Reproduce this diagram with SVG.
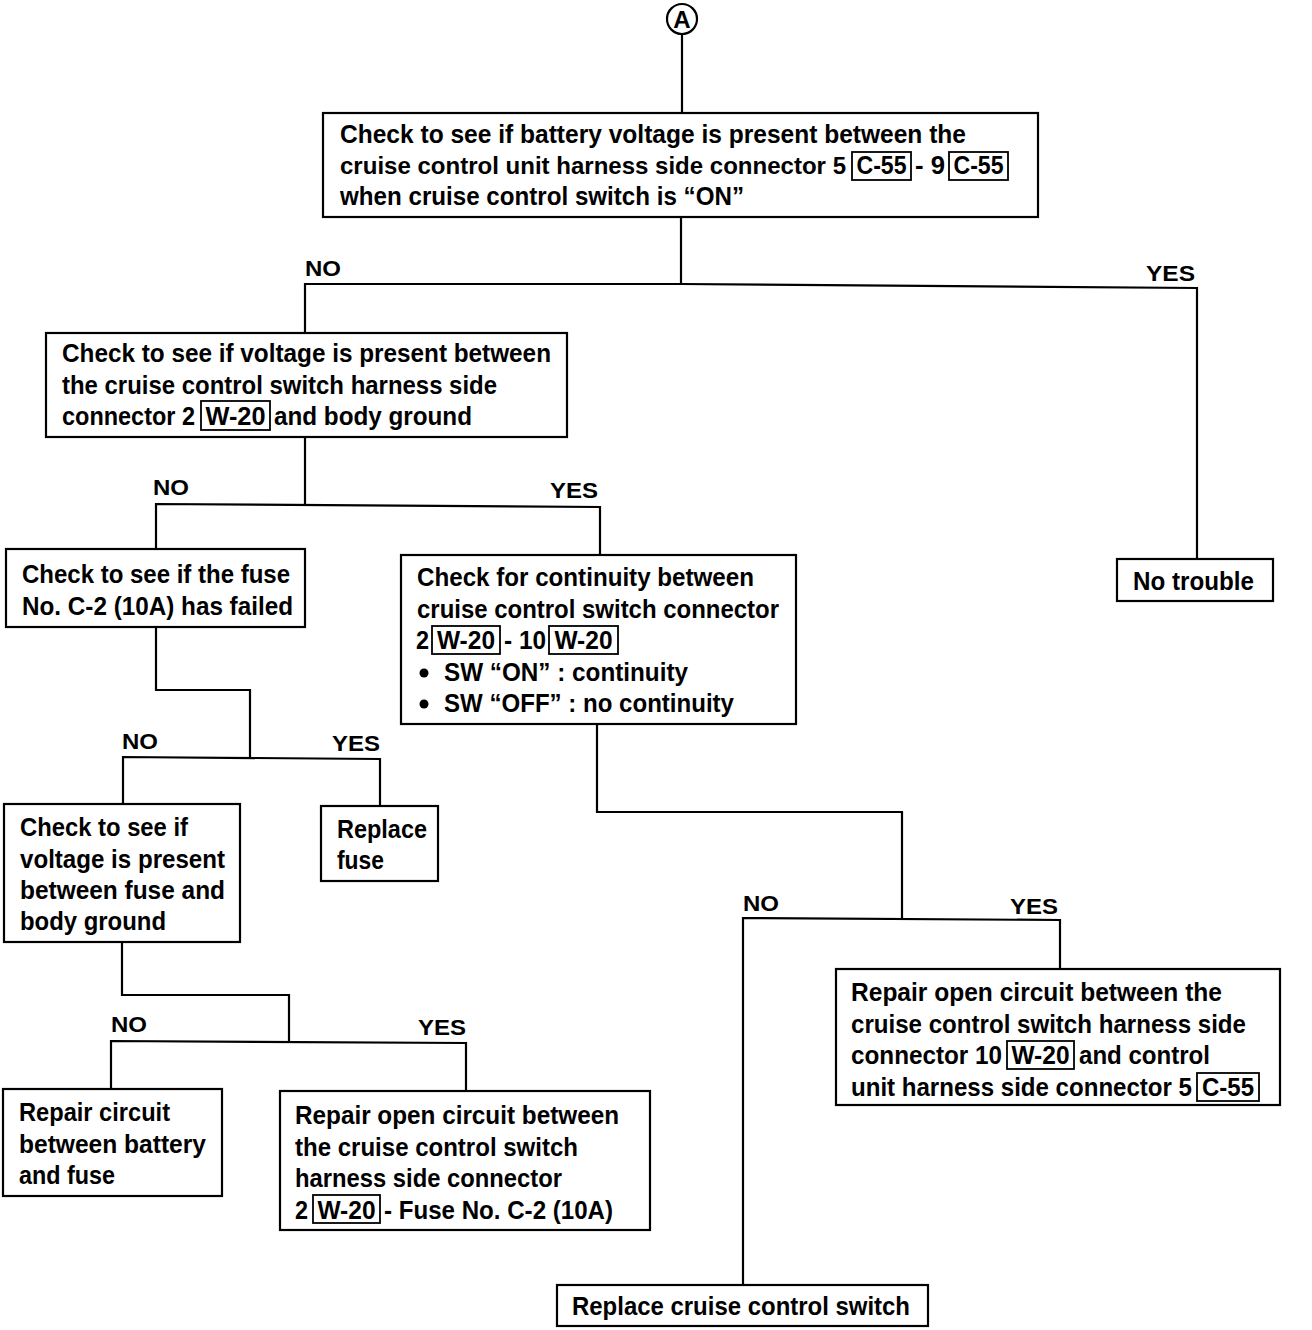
<svg xmlns="http://www.w3.org/2000/svg" width="1312" height="1330" viewBox="0 0 1312 1330">
<style>
.bx{fill:#fff;stroke:#000;stroke-width:2.2}
.cb{fill:none;stroke:#000;stroke-width:1.8}
.ln{fill:none;stroke:#000;stroke-width:2.2}
text{font-family:"Liberation Sans",Arial,sans-serif;font-size:25px;font-weight:bold;fill:#000}
.lb{font-size:22px}
.c{text-anchor:middle}
</style>
<rect width="1312" height="1330" fill="#fff"/>
<g id="connectors">
<polyline class="ln" points="682,34 682,113"/>
<polyline class="ln" points="681,217 681,284"/>
<polyline class="ln" points="305,333 305,284 681,284 1197,288 1197,559"/>
<polyline class="ln" points="305,437 305,504"/>
<polyline class="ln" points="156,549 156,504 600,507 600,555"/>
<polyline class="ln" points="156,627 156,690 250,690 250,757"/>
<polyline class="ln" points="123,804 123,757 380,759 380,806"/>
<polyline class="ln" points="122,942 122,995 289,995 289,1041"/>
<polyline class="ln" points="111,1089 111,1041 466,1043 466,1091"/>
<polyline class="ln" points="597,724 597,812 902,812 902,918"/>
<polyline class="ln" points="743,1285 743,918 1060,920 1060,969"/>
<text class="lb" x="305" y="276" textLength="36" lengthAdjust="spacingAndGlyphs">NO</text>
<text class="lb" x="1146" y="281" textLength="49" lengthAdjust="spacingAndGlyphs">YES</text>
<text class="lb" x="153" y="495" textLength="36" lengthAdjust="spacingAndGlyphs">NO</text>
<text class="lb" x="550" y="498" textLength="48" lengthAdjust="spacingAndGlyphs">YES</text>
<text class="lb" x="122" y="749" textLength="36" lengthAdjust="spacingAndGlyphs">NO</text>
<text class="lb" x="332" y="751" textLength="48" lengthAdjust="spacingAndGlyphs">YES</text>
<text class="lb" x="111" y="1032" textLength="36" lengthAdjust="spacingAndGlyphs">NO</text>
<text class="lb" x="418" y="1035" textLength="48" lengthAdjust="spacingAndGlyphs">YES</text>
<text class="lb" x="743" y="911" textLength="36" lengthAdjust="spacingAndGlyphs">NO</text>
<text class="lb" x="1010" y="914" textLength="48" lengthAdjust="spacingAndGlyphs">YES</text>
</g>
<g id="startA">
<circle cx="682" cy="19" r="15" fill="#fff" stroke="#000" stroke-width="2.2"/>
<text class="c" x="682" y="28" style="font-size:24px">A</text>
</g>
<g id="n1">
<rect class="bx" x="323" y="113" width="715" height="104"/>
<text x="340" y="143" textLength="626" lengthAdjust="spacingAndGlyphs">Check to see if battery voltage is present between the</text>
<text x="340" y="174" style="font-size:23.8px" textLength="506" lengthAdjust="spacingAndGlyphs">cruise control unit harness side connector 5</text>
<rect class="cb" x="852" y="152" width="59" height="28"/>
<text class="c" x="881.5" y="174" textLength="50" lengthAdjust="spacingAndGlyphs">C-55</text>
<text x="915" y="174" textLength="30" lengthAdjust="spacingAndGlyphs">- 9</text>
<rect class="cb" x="949" y="152" width="59" height="28"/>
<text class="c" x="978.5" y="174" textLength="50" lengthAdjust="spacingAndGlyphs">C-55</text>
<text x="340" y="205" textLength="404" lengthAdjust="spacingAndGlyphs">when cruise control switch is “ON”</text>
</g>
<g id="n2">
<rect class="bx" x="46" y="333" width="521" height="104"/>
<text x="62" y="362" textLength="489" lengthAdjust="spacingAndGlyphs">Check to see if voltage is present between</text>
<text x="62" y="394" textLength="435" lengthAdjust="spacingAndGlyphs">the cruise control switch harness side</text>
<text x="62" y="425" textLength="133" lengthAdjust="spacingAndGlyphs">connector 2</text>
<rect class="cb" x="201" y="401" width="69" height="29"/>
<text class="c" x="235.5" y="425" textLength="60" lengthAdjust="spacingAndGlyphs">W-20</text>
<text x="274" y="425" textLength="198" lengthAdjust="spacingAndGlyphs">and body ground</text>
</g>
<g id="n3">
<rect class="bx" x="6" y="549" width="299" height="78"/>
<text x="22" y="583" textLength="268" lengthAdjust="spacingAndGlyphs">Check to see if the fuse</text>
<text x="22" y="615" textLength="271" lengthAdjust="spacingAndGlyphs">No. C-2 (10A) has failed</text>
</g>
<g id="n4">
<rect class="bx" x="401" y="555" width="395" height="169"/>
<text x="417" y="586" textLength="337" lengthAdjust="spacingAndGlyphs">Check for continuity between</text>
<text x="417" y="618" textLength="362" lengthAdjust="spacingAndGlyphs">cruise control switch connector</text>
<text x="416" y="649" textLength="13" lengthAdjust="spacingAndGlyphs">2</text>
<rect class="cb" x="432" y="626" width="68" height="28"/>
<text class="c" x="466" y="649" textLength="58" lengthAdjust="spacingAndGlyphs">W-20</text>
<text x="504" y="649" textLength="42" lengthAdjust="spacingAndGlyphs">- 10</text>
<rect class="cb" x="549" y="626" width="69" height="28"/>
<text class="c" x="583.5" y="649" textLength="58" lengthAdjust="spacingAndGlyphs">W-20</text>
<circle cx="424" cy="673" r="4.5" fill="#000"/>
<text x="444" y="681" textLength="244" lengthAdjust="spacingAndGlyphs">SW “ON” : continuity</text>
<circle cx="424" cy="704" r="4.5" fill="#000"/>
<text x="444" y="712" textLength="290" lengthAdjust="spacingAndGlyphs">SW “OFF” : no continuity</text>
</g>
<g id="n5">
<rect class="bx" x="1117" y="559" width="156" height="42"/>
<text x="1133" y="590" textLength="121" lengthAdjust="spacingAndGlyphs">No trouble</text>
</g>
<g id="n6">
<rect class="bx" x="4" y="804" width="236" height="138"/>
<text x="20" y="836" textLength="168" lengthAdjust="spacingAndGlyphs">Check to see if</text>
<text x="20" y="868" textLength="205" lengthAdjust="spacingAndGlyphs">voltage is present</text>
<text x="20" y="899" textLength="205" lengthAdjust="spacingAndGlyphs">between fuse and</text>
<text x="20" y="930" textLength="146" lengthAdjust="spacingAndGlyphs">body ground</text>
</g>
<g id="n7">
<rect class="bx" x="321" y="806" width="117" height="75"/>
<text x="337" y="838" textLength="90" lengthAdjust="spacingAndGlyphs">Replace</text>
<text x="337" y="869" textLength="47" lengthAdjust="spacingAndGlyphs">fuse</text>
</g>
<g id="n8">
<rect class="bx" x="3" y="1089" width="219" height="107"/>
<text x="19" y="1121" textLength="151" lengthAdjust="spacingAndGlyphs">Repair circuit</text>
<text x="19" y="1153" textLength="187" lengthAdjust="spacingAndGlyphs">between battery</text>
<text x="19" y="1184" textLength="96" lengthAdjust="spacingAndGlyphs">and fuse</text>
</g>
<g id="n9">
<rect class="bx" x="280" y="1091" width="370" height="139"/>
<text x="295" y="1124" textLength="324" lengthAdjust="spacingAndGlyphs">Repair open circuit between</text>
<text x="295" y="1156" textLength="283" lengthAdjust="spacingAndGlyphs">the cruise control switch</text>
<text x="295" y="1187" textLength="267" lengthAdjust="spacingAndGlyphs">harness side connector</text>
<text x="295" y="1219" textLength="13" lengthAdjust="spacingAndGlyphs">2</text>
<rect class="cb" x="313" y="1195" width="67" height="28"/>
<text class="c" x="346.5" y="1219" textLength="58" lengthAdjust="spacingAndGlyphs">W-20</text>
<text x="384" y="1219" textLength="229" lengthAdjust="spacingAndGlyphs">- Fuse No. C-2 (10A)</text>
</g>
<g id="n10">
<rect class="bx" x="836" y="969" width="444" height="136"/>
<text x="851" y="1001" textLength="371" lengthAdjust="spacingAndGlyphs">Repair open circuit between the</text>
<text x="851" y="1033" textLength="395" lengthAdjust="spacingAndGlyphs">cruise control switch harness side</text>
<text x="851" y="1064" textLength="151" lengthAdjust="spacingAndGlyphs">connector 10</text>
<rect class="cb" x="1007" y="1041" width="67" height="28"/>
<text class="c" x="1040.5" y="1064" textLength="58" lengthAdjust="spacingAndGlyphs">W-20</text>
<text x="1079" y="1064" textLength="131" lengthAdjust="spacingAndGlyphs">and control</text>
<text x="851" y="1096" textLength="341" lengthAdjust="spacingAndGlyphs">unit harness side connector 5</text>
<rect class="cb" x="1197" y="1073" width="62" height="28"/>
<text class="c" x="1228" y="1096" textLength="52" lengthAdjust="spacingAndGlyphs">C-55</text>
</g>
<g id="n11">
<rect class="bx" x="557" y="1285" width="371" height="41"/>
<text x="572" y="1315" textLength="338" lengthAdjust="spacingAndGlyphs">Replace cruise control switch</text>
</g>
</svg>
